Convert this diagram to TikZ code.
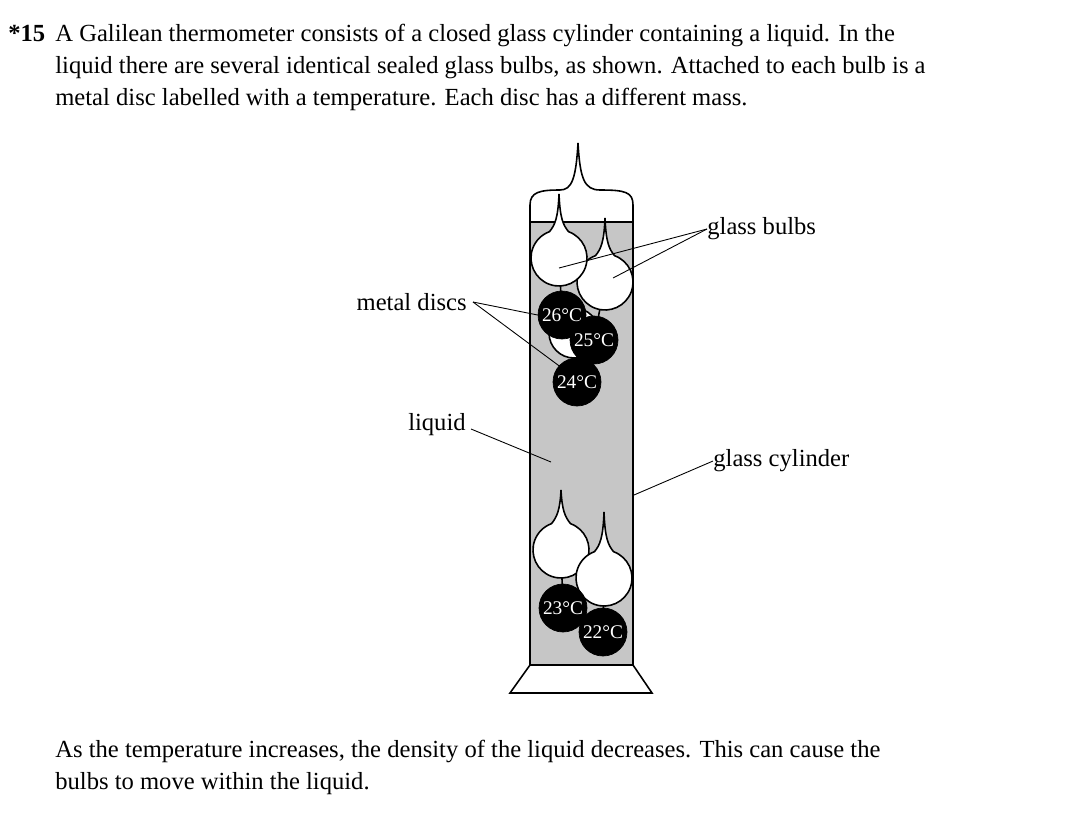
\documentclass[tikz,border=0pt]{standalone}
\usepackage{fontspec}
\setmainfont{Liberation Serif}
\usetikzlibrary{positioning,calc}
\newcommand\galbulb[4]{% name, x, y, spike height
  \coordinate (#1) at (#2,#3);
  \draw[fill=white, line width=0.9pt] ($(#1)+(-70:28)$) arc[start angle=-70, end angle=250, radius=28]
    .. controls ($(#1)+(-4,-33)$) and ($(#1)+(-1,-40)$) .. ($(#1)+(0,-#4)$)
    .. controls ($(#1)+(1,-40)$) and ($(#1)+(4,-33)$) .. cycle;
}

\begin{document}
\begin{tikzpicture}[x=0.02cm, y=-0.02cm,
    txt/.style={font=\fontsize{14}{16}\selectfont, inner sep=0pt},
    disc/.style={circle, fill=black, draw=black, minimum size=0.96cm, inner sep=0pt,
      text=white, font=\fontsize{11}{11}\selectfont},
    leader/.style={line width=0.5pt}]
    \useasboundingbox (0,0) rectangle (1077,812);

    % question text
    \node[txt, anchor=base west, font=\fontsize{14}{16}\selectfont\bfseries] (num) at (8,41) {*15};
    \node[txt, anchor=base west] (q1) at (55,41) {A Galilean thermometer consists of a closed glass cylinder containing a liquid. In the};
    \node[txt, anchor=base west] (q2) at (55,73) {liquid there are several identical sealed glass bulbs, as shown. Attached to each bulb is a};
    \node[txt, anchor=base west] (q3) at (55,105) {metal disc labelled with a temperature. Each disc has a different mass.};

    % cylinder, liquid and stand
    \fill[gray!45] (530,222) rectangle (633,665);
    \draw[line width=0.9pt] (530,222) -- (633,222);
    \draw[line width=0.9pt] (530,665) -- (530,205) .. controls (530,192) and (540,190) .. (560,190)
        .. controls (572,190) and (576,178) .. (578,143)
        .. controls (580,178) and (584,190) .. (600,190)
        .. controls (625,190) and (633,192) .. (633,205) -- (633,665) -- cycle;
    \draw[line width=0.9pt] (530,665) -- (510,693) -- (652,693) -- (633,665);

    % stems
    \draw[line width=0.9pt] (559,258) -- (562,315) (605,282) -- (594,340) (574,335) -- (577,382)
        (561,550) -- (563,608) (604,578) -- (603,632);

    % upper bulbs
    \draw[fill=white, line width=0.9pt] (574,333) circle[radius=25];
    \galbulb{b25}{605}{282}{64}
    \galbulb{b26}{559}{258}{64}
    % lower bulbs
    \galbulb{b23}{561}{550}{60}
    \galbulb{b22}{604}{578}{66}

    % discs
    \node[disc] (d26) at (562,315) {26°C};
    \node[disc] (d25) at (594,340) {25°C};
    \node[disc] (d24) at (577,382) {24°C};
    \node[disc] (d23) at (563,608) {23°C};
    \node[disc] (d22) at (603,632) {22°C};

    % labels
    \node[txt, anchor=west] (lbulbs) at (707,229) {glass bulbs};
    \node[txt, anchor=east] (ldiscs) at (467,302) {metal discs};
    \node[txt, anchor=east] (lliquid) at (466,425) {liquid};
    \node[txt, anchor=west] (lcyl) at (713,461) {glass cylinder};
    \coordinate (liq) at (551,462);
    \coordinate (wall) at (634,495);

    \draw[leader] (lbulbs.west) -- ($(b26)+(0,10)$);
    \draw[leader] (lbulbs.west) -- ($(b25)+(8,-4)$);
    \draw[leader] (ldiscs.east) ++(6,0) -- (d26.west);
    \draw[leader] (ldiscs.east) ++(6,0) -- ($(d24)+(-15,-14)$);
    \draw[leader] (lliquid.east) ++(5,4) -- (liq);
    \draw[leader] (lcyl.west) -- (wall);

    % closing text
    \node[txt, anchor=base west] (t1) at (55,757) {As the temperature increases, the density of the liquid decreases. This can cause the};
    \node[txt, anchor=base west] (t2) at (55,789) {bulbs to move within the liquid.};
\end{tikzpicture}
\end{document}
